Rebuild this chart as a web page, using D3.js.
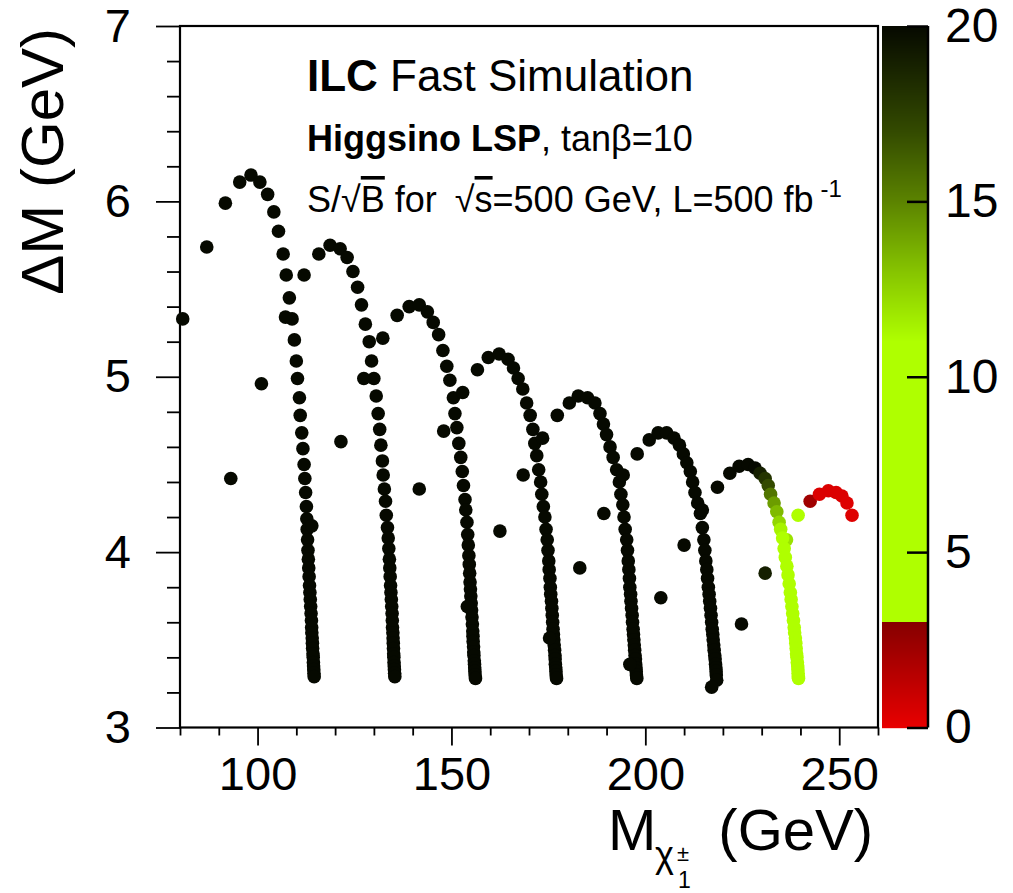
<!DOCTYPE html>
<html><head><meta charset="utf-8">
<script src="https://cdn.jsdelivr.net/npm/d3@7"></script>
<style>
body{margin:0;background:#fff}
svg{display:block;font-family:"Liberation Sans",Arial,Helvetica,sans-serif}
</style>
</head><body>
<svg id="c" width="1013" height="893"></svg>
<script>
// ---------------- data (chargino mass [GeV], Delta M [GeV]) ----------------
// saturated (black) points: S/sqrt(B) above the top of the colour scale
const saturatedSignif = 25;

const arc1 = [[80.7,5.33],[86.9,5.74],[91.7,5.99],[95.4,6.11],[98.3,6.15],[100.6,6.11],[102.6,6.04],[104.2,5.94],[105.4,5.83],[106.6,5.70],[107.4,5.58],[108.2,5.45],[108.9,5.33],[109.5,5.21],[110.0,5.09],[110.3,4.99],[110.8,4.88],[111.0,4.78],[111.4,4.68],[111.7,4.59],[112.0,4.50],[112.2,4.42],[112.4,4.34],[112.6,4.26],[112.7,4.19],
 [112.8,4.13],[112.9,4.07],[113.0,4.01],[113.1,3.96],[113.2,3.91],[113.3,3.86],[113.4,3.81],[113.5,3.77],[113.6,3.73],[113.7,3.69],[113.8,3.65],[113.9,3.61],[113.95,3.57],[114.0,3.54],[114.1,3.51],[114.15,3.48],[114.2,3.45],[114.3,3.42],[114.35,3.40],[114.4,3.37],[114.45,3.35],[114.5,3.33],[114.55,3.31],[114.6,3.29]];

const arc2 = [[112.0,5.58],[115.8,5.70],[118.7,5.75],[121.3,5.73],[123.1,5.68],[124.6,5.60],[125.8,5.51],[126.8,5.41],[127.8,5.30],[128.8,5.20],[129.4,5.09],[130.0,4.99],[130.6,4.89],[131.1,4.79],[131.5,4.70],[131.8,4.61],[132.2,4.52],[132.4,4.44],[132.7,4.36],[133.0,4.29],[133.2,4.21],[133.5,4.14],[133.7,4.08],
 [133.85,4.02],[134.0,3.96],[134.1,3.91],[134.2,3.86],[134.3,3.81],[134.4,3.77],[134.5,3.73],[134.6,3.69],[134.7,3.65],[134.75,3.61],[134.8,3.57],[134.9,3.54],[134.95,3.51],[135.0,3.48],[135.05,3.45],[135.1,3.42],[135.15,3.40],[135.2,3.37],[135.25,3.35],[135.3,3.33],[135.35,3.31],[135.4,3.29]];

const arc3 = [[132.3,5.22],[136.0,5.35],[139.1,5.40],[141.7,5.41],[143.8,5.37],[145.3,5.31],[146.7,5.24],[147.8,5.15],[148.8,5.06],[149.6,4.98],[150.5,4.88],[150.9,4.79],[151.4,4.71],[151.9,4.62],[152.4,4.54],[152.8,4.46],[153.1,4.38],[153.5,4.30],[153.7,4.24],[154.0,4.17],[154.2,4.10],
 [154.35,4.04],[154.5,3.98],[154.6,3.93],[154.7,3.88],[154.8,3.83],[154.9,3.79],[155.0,3.75],[155.1,3.71],[155.2,3.67],[155.3,3.63],[155.4,3.59],[155.5,3.55],[155.55,3.52],[155.6,3.49],[155.7,3.46],[155.75,3.43],[155.8,3.41],[155.9,3.38],[155.95,3.36],[156.0,3.34],[156.05,3.32],[156.1,3.30],[156.2,3.28]];

const arc4 = [[152.9,4.91],[156.7,5.04],[159.5,5.11],[162.3,5.13],[164.6,5.10],[166.0,5.05],[167.2,4.99],[168.4,4.93],[169.4,4.85],[170.3,4.78],[171.0,4.70],[171.5,4.62],[172.0,4.55],[172.5,4.47],[173.0,4.40],[173.3,4.33],[173.7,4.26],[174.1,4.20],[174.4,4.13],[174.7,4.07],
 [174.9,4.01],[175.1,3.95],[175.2,3.90],[175.4,3.85],[175.5,3.80],[175.6,3.76],[175.8,3.72],[175.9,3.68],[176.0,3.64],[176.1,3.60],[176.2,3.56],[176.3,3.53],[176.4,3.50],[176.5,3.47],[176.6,3.44],[176.7,3.41],[176.75,3.39],[176.8,3.36],[176.9,3.34],[176.95,3.32],[177.0,3.30],[177.1,3.28]];

const arc5 = [[173.5,4.65],[177.3,4.78],[180.4,4.85],[182.7,4.89],[185.1,4.88],[187.0,4.85],[188.3,4.79],[189.2,4.73],[190.0,4.67],[190.9,4.60],[191.7,4.54],[192.6,4.47],[193.3,4.40],[193.7,4.33],[194.2,4.27],[194.5,4.20],[194.8,4.13],[195.2,4.07],
 [195.4,4.01],[195.6,3.95],[195.75,3.90],[195.9,3.85],[196.0,3.80],[196.2,3.76],[196.3,3.72],[196.45,3.68],[196.6,3.64],[196.7,3.60],[196.85,3.56],[196.95,3.53],[197.05,3.50],[197.15,3.47],[197.25,3.44],[197.35,3.41],[197.45,3.39],[197.5,3.36],[197.6,3.34],[197.65,3.32],[197.7,3.30],[197.8,3.28]];

const arc6 = [[197.9,4.56],[201.0,4.64],[203.3,4.68],[205.5,4.68],[207.4,4.65],[208.8,4.61],[209.8,4.56],[210.7,4.51],[211.6,4.46],[212.2,4.40],[212.8,4.34],[213.5,4.28],[214.2,4.22],[214.7,4.14],[215.1,4.07],
 [215.35,4.01],[215.6,3.95],[215.85,3.90],[216.05,3.85],[216.25,3.80],[216.45,3.76],[216.6,3.72],[216.8,3.68],[216.95,3.64],[217.1,3.60],[217.25,3.56],[217.4,3.53],[217.5,3.50],[217.65,3.47],[217.75,3.44],[217.9,3.41],[218.0,3.39],[218.1,3.36],[218.2,3.34],[218.25,3.32],[218.3,3.30],[218.4,3.27]];

// [mass, deltaM, S/sqrt(B)]
const arc7 = [[218.6,4.37,25],[221.8,4.45,25],[224.2,4.49,25],[226.5,4.50,25],[228.3,4.48,20],[229.6,4.45,19],[230.9,4.42,18],[231.7,4.38,17],[232.3,4.33,15.5],[233.2,4.28,14.2],[233.9,4.23,13.3],[234.5,4.17,12.4],[234.9,4.13,11.4],[235.4,4.08,10],
 [235.8,4.02,9],[236.1,3.97,9],[236.5,3.92,9],[236.8,3.87,8.5],[237.1,3.82,8.5],[237.4,3.77,8],[237.6,3.73,8],[237.8,3.69,8],[238.0,3.65,7.5],[238.2,3.61,7.5],[238.4,3.57,7],[238.5,3.54,7],[238.7,3.51,7],[238.8,3.48,6.5],[238.9,3.45,6.5],[239.0,3.42,6],[239.1,3.40,6],[239.2,3.37,6],[239.3,3.35,5.5],[239.35,3.33,5.5],[239.4,3.31,5.5],[239.45,3.29,5],[239.5,3.28,5]];

const arc8 = [[242.5,4.29,2.2],[244.9,4.33,0.4],[247.2,4.35,0.4],[249.2,4.34,0.4],[250.7,4.32,0.4],[252.0,4.28,0.3],[253.3,4.21,0.3]];

const isolated = [[93.1,4.42,25],[101.0,4.96,25],[107.2,5.34,25],[114.0,4.15,25],[121.5,4.63,25],[127.4,4.99,25],[141.7,4.36,25],[148.0,4.69,25],[154.1,3.69,25],[162.5,4.12,25],[168.5,4.44,25],[175.3,3.51,25],[183.1,3.91,25],[189.3,4.22,25],[194.3,4.44,25],[196.0,3.36,25],[204.0,3.74,25],[210.0,4.04,25],[214.7,4.24,25],[217.1,3.23,25],[224.8,3.59,25],[230.9,3.88,19],[236.4,4.07,12],[239.4,4.21,8]];

// axis tick values
const xMajorTicks = [100,150,200,250];
const xMinorTicks = [80,90,110,120,130,140,160,170,180,190,210,220,230,240,260];
const yMajorTicks = [3,4,5,6,7];
const yMinorTicks = [3.2,3.4,3.6,3.8,4.2,4.4,4.6,4.8,5.2,5.4,5.6,5.8,6.2,6.4,6.6,6.8];
const zTicks = [0,5,10,15,20];

// ---------------- drawing ----------------
const svg = d3.select("#c");
const L = 180, R = 878, T = 26, B = 727.5;
const x = d3.scaleLinear().domain([80,260]).range([L,R]);
const y = d3.scaleLinear().domain([3,7]).range([B,T]);
const z = d3.scaleLinear().domain([0,20]).range([B,T]);

const redScale = d3.scaleLinear().domain([0,3]).range(["#e80000","#860000"]).clamp(true);
const greenScale = d3.scaleLinear().domain([11,13,15,17,20]).range(["#afff00","#86c400","#5b8300","#334a00","#060900"]).clamp(true);
function colour(v){
  if (v < 3) return redScale(v);
  if (v <= 11) return "#afff00";
  return greenScale(v);
}

// colour bar
const cbL = 882, cbR = 928;
const rows = d3.range(Math.ceil(T), Math.ceil(B));
svg.append("g").selectAll("rect").data(rows).join("rect")
  .attr("x", cbL).attr("width", cbR-cbL)
  .attr("y", d=>d).attr("height", 1.2)
  .attr("fill", d=>colour(z.invert(d+0.5)));

svg.append("line").attr("x1",cbR).attr("x2",cbR).attr("y1",T).attr("y2",B)
  .attr("stroke","#000").attr("stroke-width",2.5);
const zAxis = d3.axisRight(z).tickValues(zTicks).tickFormat(d3.format("d"))
  .tickSizeInner(-21).tickSizeOuter(0).tickPadding(17);
const gz = svg.append("g").attr("transform",`translate(${cbR},0)`).call(zAxis);
gz.select(".domain").remove();
gz.selectAll(".tick line").attr("stroke","#000").attr("stroke-width",2.5);
gz.selectAll("text").attr("font-size",48).attr("font-family","Liberation Sans, Arial, sans-serif").attr("fill","#000");

// axes
function styleAxis(g){
  g.select(".domain").remove();
  g.selectAll(".tick line").attr("stroke","#000").attr("stroke-width",1.8);
  g.selectAll("text").attr("font-size",47).attr("font-family","Liberation Sans, Arial, sans-serif").attr("fill","#000");
}
svg.append("g").attr("transform",`translate(${L},0)`)
  .call(d3.axisLeft(y).tickValues(yMinorTicks).tickSize(13).tickFormat(""))
  .call(styleAxis);
svg.append("g").attr("transform",`translate(${L},0)`)
  .call(d3.axisLeft(y).tickValues(yMajorTicks).tickSize(24).tickPadding(25).tickFormat(d3.format("d")))
  .call(styleAxis);
svg.append("g").attr("transform",`translate(0,${B})`)
  .call(d3.axisBottom(x).tickValues(xMinorTicks).tickSize(8).tickFormat(""))
  .call(styleAxis);
svg.append("g").attr("transform",`translate(0,${B})`)
  .call(d3.axisBottom(x).tickValues(xMajorTicks).tickSize(18).tickPadding(11).tickFormat(d3.format("d")))
  .call(styleAxis);

// frame
svg.append("rect").attr("x",L).attr("y",T).attr("width",R-L).attr("height",B-T)
  .attr("fill","none").attr("stroke","#000").attr("stroke-width",2.2);

// points
const blackArcs = [arc1,arc2,arc3,arc4,arc5,arc6].map(a=>a.map(p=>[p[0],p[1],saturatedSignif]));
const allPts = [].concat(...blackArcs, isolated, arc7, arc8);
svg.append("g").selectAll("circle").data(allPts).join("circle")
  .attr("cx", d=>x(d[0])).attr("cy", d=>y(d[1])).attr("r", 6.8)
  .attr("fill", d=>colour(d[2]));

// texts
const t1 = svg.append("text").attr("x",307).attr("y",91).attr("font-size",44).attr("fill","#000");
t1.append("tspan").attr("font-weight","bold").text("ILC");
t1.append("tspan").text(" Fast Simulation");

const t2 = svg.append("text").attr("x",307).attr("y",151).attr("font-size",36).attr("fill","#000");
t2.append("tspan").attr("font-weight","bold").text("Higgsino LSP");
t2.append("tspan").text(", tanβ=10");

const t3 = svg.append("text").attr("x",307).attr("y",212).attr("font-size",36).attr("fill","#000");
t3.append("tspan").text("S/√");
t3.append("tspan").style("text-decoration","overline").text("B");
t3.append("tspan").text(" for");
t3.append("tspan").attr("dx",18).text("√");
t3.append("tspan").style("text-decoration","overline").text("s");
t3.append("tspan").text("=500 GeV, L=500 fb");
t3.append("tspan").attr("dx",7).attr("dy",-15).attr("font-size",24).text("-1");

// y title
svg.append("text").attr("transform","translate(63,28) rotate(-90)")
  .attr("text-anchor","end").attr("font-size",60).attr("fill","#000").text("ΔM (GeV)");

// x title
svg.append("text").attr("x",608).attr("y",850).attr("font-size",58).attr("fill","#000").text("M");
svg.append("text").attr("x",655).attr("y",867).attr("font-size",36).attr("fill","#000").text("χ");
svg.append("text").attr("x",677).attr("y",861).attr("font-size",22).attr("fill","#000").text("±");
svg.append("text").attr("x",678).attr("y",888).attr("font-size",23).attr("fill","#000").text("1");
svg.append("text").attr("x",873).attr("y",850).attr("text-anchor","end").attr("font-size",58).attr("fill","#000").text("(GeV)");
</script>
</body></html>
